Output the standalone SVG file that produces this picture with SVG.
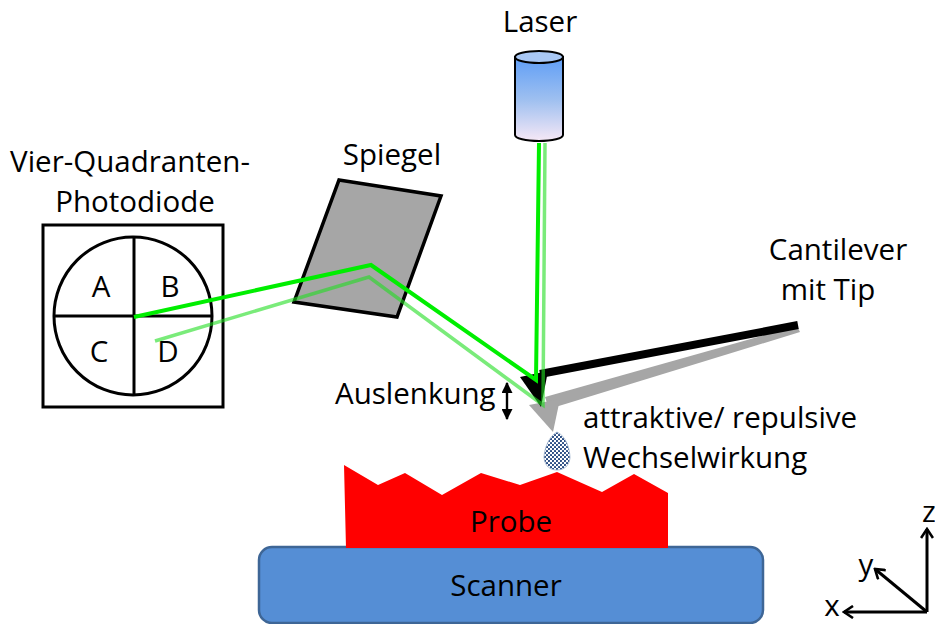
<svg xmlns="http://www.w3.org/2000/svg" width="935" height="624" viewBox="0 0 935 624">
  <defs>
    <linearGradient id="laserBody" x1="0" y1="0" x2="0" y2="1">
      <stop offset="0" stop-color="#5f9ef6"/>
      <stop offset="0.5" stop-color="#9dbff0"/>
      <stop offset="1" stop-color="#f6e8f6"/>
    </linearGradient>
    <pattern id="dots" width="4" height="4" patternUnits="userSpaceOnUse">
      <rect width="4" height="4" fill="#ffffff"/>
      <circle cx="1" cy="1" r="1.05" fill="#1a3f7a"/>
      <circle cx="3" cy="3" r="1.05" fill="#1a3f7a"/>
    </pattern>
    <marker id="openHead" viewBox="0 0 14 14" refX="12" refY="7" markerWidth="14" markerHeight="14" markerUnits="userSpaceOnUse" orient="auto">
      <path d="M3,1 L12,7 L3,13" fill="none" stroke="#000" stroke-width="2.6"/>
    </marker>
    <marker id="solidHead" viewBox="0 0 10 10" refX="9" refY="5" markerWidth="11" markerHeight="11" markerUnits="userSpaceOnUse" orient="auto-start-reverse">
      <path d="M0,0 L10,5 L0,10 Z" fill="#000"/>
    </marker>
  </defs>
  <style>
    .lbl { font-family: "Open Sans", "Liberation Sans", Arial, sans-serif; font-size: 29.5px; fill: #000; }
    .mid { text-anchor: middle; }
    .outline { fill: none; stroke: #000; stroke-width: 3; }
    .beam { fill: none; stroke: #00ee00; stroke-width: 4; stroke-linejoin: miter; }
    .beam2 { fill: none; stroke: #22dd22; stroke-opacity: 0.6; stroke-width: 3.5; stroke-linejoin: miter; }
    .axis { fill: none; stroke: #000; stroke-width: 3; }
  </style>

  <!-- Scanner stage -->
  <g id="scanner">
    <rect x="259" y="547" width="504" height="76" rx="13" ry="13" fill="#558ed5" stroke="#3e6696" stroke-width="2.5"/>
    <text class="lbl mid" x="506" y="596">Scanner</text>
  </g>

  <!-- Sample with rough surface -->
  <g id="probe">
    <polygon points="344,465 378,485 405,473 442,495 481,473 520,485 557,472 602,492 634,474 668,493 668,548 346,548" fill="#ff0000"/>
    <text class="lbl mid" x="511" y="532">Probe</text>
  </g>

  <!-- Interaction zone between tip and sample -->
  <g id="wechselwirkung">
    <path d="M557,432 C566,436 570,449 570,458 C569,466 564,470 557,470 C550,470 545,466 544,458 C544,449 549,436 557,432 Z" fill="url(#dots)" stroke="#9ab0cc" stroke-width="0.8"/>
    <text class="lbl" x="583" y="428">attraktive/ repulsive</text>
    <text class="lbl" x="583" y="468">Wechselwirkung</text>
  </g>

  <!-- Laser source -->
  <g id="laser">
    <path d="M515,57 L515,135 A24,6 0 0 0 563,135 L563,57 Z" fill="url(#laserBody)" stroke="#000" stroke-width="2"/>
    <ellipse cx="539" cy="57" rx="24" ry="6" fill="#a9c8f5" stroke="#000" stroke-width="2"/>
    <text class="lbl mid" x="540" y="32">Laser</text>
  </g>

  <!-- Mirror -->
  <g id="spiegel">
    <polygon points="339,180 441,196 397,317 294,302" fill="#a6a6a6" stroke="#000" stroke-width="3.5" stroke-linejoin="miter"/>
    <text class="lbl mid" x="392" y="165">Spiegel</text>
  </g>

  <!-- Four-quadrant photodiode -->
  <g id="photodiode">
    <rect x="43" y="225" width="180" height="182" class="outline"/>
    <circle cx="133" cy="316" r="79" class="outline"/>
    <line x1="54" y1="316" x2="212" y2="316" class="outline"/>
    <line x1="134" y1="237" x2="134" y2="395" class="outline"/>
    <text class="lbl mid" x="101" y="297">A</text>
    <text class="lbl mid" x="170" y="297">B</text>
    <text class="lbl mid" x="99" y="362">C</text>
    <text class="lbl mid" x="168" y="362">D</text>
    <text class="lbl mid" x="130" y="172">Vier-Quadranten-</text>
    <text class="lbl mid" x="135" y="212">Photodiode</text>
  </g>

  <!-- Cantilever: deflected (grey) and rest (black) positions -->
  <g id="cantilever">
    <polygon points="797,326 800,332 549,409 545,397" fill="#a6a6a6"/>
    <polygon points="529,405 560,399 553,432" fill="#a6a6a6"/>
    <line x1="540" y1="374" x2="798" y2="325" stroke="#000" stroke-width="8"/>
    <polygon points="520,377 548,371 541,407" fill="#000"/>
    <text class="lbl mid" x="838" y="260">Cantilever</text>
    <text class="lbl mid" x="828" y="300">mit Tip</text>
  </g>

  <!-- Deflection indicator -->
  <g id="auslenkung">
    <line x1="507" y1="383" x2="507" y2="419" stroke="#000" stroke-width="2.4" marker-start="url(#solidHead)" marker-end="url(#solidHead)"/>
    <text class="lbl" x="335" y="404">Auslenkung</text>
  </g>

  <!-- Laser beam paths -->
  <g id="connectors">
    <polyline class="beam2" points="545,143 543,405 369,277 155,341"/>
    <polyline class="beam" points="539,143 536,380 371,265 134,317"/>
  </g>

  <!-- Coordinate axes -->
  <g id="axes">
    <line class="axis" x1="927" y1="612" x2="927" y2="529" marker-end="url(#openHead)"/>
    <line class="axis" x1="927" y1="612" x2="844" y2="612" marker-end="url(#openHead)"/>
    <line class="axis" x1="927" y1="612" x2="875" y2="569" marker-end="url(#openHead)"/>
    <text class="lbl mid" x="929" y="522">z</text>
    <text class="lbl mid" x="832" y="616">x</text>
    <text class="lbl mid" x="866" y="575">y</text>
  </g>
</svg>
